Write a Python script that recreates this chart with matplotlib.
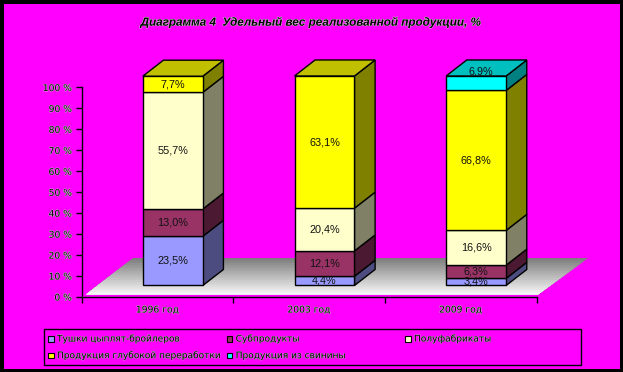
import matplotlib
matplotlib.use("Agg")
import matplotlib.pyplot as plt
from matplotlib.patches import Rectangle, Polygon
from matplotlib.transforms import Affine2D
import matplotlib.patheffects as pe
import numpy as np

categories = ["1996 год", "2003 год", "2009 год"]
series_names = ["Тушки цыплят-бройлеров", "Субпродукты", "Полуфабрикаты",
                "Продукция глубокой переработки", "Продукция из свинины"]
broilers = [23.5, 4.4, 3.4]
offal = [13.0, 12.1, 6.3]
semi = [55.7, 20.4, 16.6]
deep = [7.7, 63.1, 66.8]
pork = [0.0, 0.0, 6.9]
series_values = [broilers, offal, semi, deep, pork]
front_colors = ["#9999FF", "#993366", "#FFFFCC", "#FFFF00", "#00FFFF"]
side_colors = ["#4C4C80", "#4C1933", "#808066", "#808000", "#008080"]
top_colors = ["#7373BF", "#732650", "#BFBF99", "#C0C000", "#00BFBF"]
yticks = list(range(0, 101, 10))

W, H = 623, 372
fig = plt.figure(figsize=(W / 100, H / 100), dpi=100, facecolor="black")
plt.rcParams["font.family"] = ["Liberation Sans", "DejaVu Sans"]
px = Affine2D().scale(1 / W, -1 / H).translate(0, 1) + fig.transFigure

fig.patches.append(Rectangle((4, 4), 616, 365, transform=px, facecolor="#FF00FF",
                             edgecolor="none", zorder=-5))

x0, x1, y_bot, y_top = 81.5, 536.5, 297.0, 87.5
ax = fig.add_axes([x0 / W, 1 - y_bot / H, (x1 - x0) / W, (y_bot - y_top) / H])
ax.patch.set_visible(False)
ax.set_xlim(0, 3)
ax.set_ylim(0, 100)
for s in ("top", "right"):
    ax.spines[s].set_visible(False)
for s in ("left", "bottom"):
    ax.spines[s].set_linewidth(1.0)

halo = [pe.withStroke(linewidth=0.5, foreground="#dddddd")]
ax.set_yticks(yticks)
ax.set_yticklabels([f"{v} %" for v in yticks], fontsize=6.6, color="black", path_effects=halo,
                   fontfamily="DejaVu Sans")
ax.set_xticks([0, 1, 2, 3])
ax.set_xticklabels([])
ax.tick_params(axis="both", length=4, width=1, pad=3)
for i, c in enumerate(categories):
    ax.text(i + 0.5, -6.2, c, ha="center", va="center", fontsize=6.6, path_effects=halo,
            fontfamily="DejaVu Sans", clip_on=False)

# floor
fx_l0, fx_r0, fy0 = 0.03, 3.01, 1.2
bx_l, bx_r, by = 0.34, 3.34, 18.6
shades = np.linspace(0.50, 0.96, 15)
for k, sh in enumerate(shades):
    t = k / len(shades)
    xl = bx_l + (fx_l0 - bx_l) * t
    xr = bx_r + (fx_r0 - bx_r) * t
    yy = by + (fy0 - by) * t
    ax.add_patch(Polygon([(xl, yy), (xr, yy), (fx_r0, fy0), (fx_l0, fy0)], closed=True,
                         facecolor=str(sh), edgecolor="none", clip_on=False, zorder=1))

# bars
base = 5.5
bw = 60 / 151.67
off = 15.5 / 151.67
dx = 20.6 / 151.67
dy = 16 / 2.095
label_shift = {(2, 4): (5 / 151.67, 12 / 2.095)}
for i in range(len(categories)):
    left = i + 0.5 + off - bw / 2
    bottom = base
    top_idx = max(j for j in range(5) if series_values[j][i] > 0)
    for j, vals in enumerate(series_values):
        v = vals[i]
        if v <= 0:
            continue
        kw = dict(edgecolor="black", linewidth=1.0, clip_on=False, zorder=3 + i, joinstyle="miter")
        ax.add_patch(Polygon([(left + bw, bottom), (left + bw + dx, bottom + dy),
                              (left + bw + dx, bottom + v + dy), (left + bw, bottom + v)],
                             closed=True, facecolor=side_colors[j], **kw))
        ax.add_patch(Rectangle((left, bottom), bw, v, facecolor=front_colors[j], **kw))
        if j == top_idx:
            ax.add_patch(Polygon([(left, bottom + v), (left + bw, bottom + v),
                                  (left + bw + dx, bottom + v + dy), (left + dx, bottom + v + dy)],
                                 closed=True, facecolor=top_colors[j], **kw))
        sx, sy = label_shift.get((i, j), (0, 0))
        ax.text(left + bw / 2 + sx, bottom + v / 2 + sy, f"{v:.1f}%".replace(".", ","),
                ha="center", va="center", fontsize=7.8, color="#111111", zorder=10, clip_on=False)
        bottom += v

# title
fig.text(310.5 / W, 1 - 22 / H, "Диаграмма 4  Удельный вес реализованной продукции, %",
         ha="center", va="center", fontsize=8.4, fontweight="bold", fontstyle="italic",
         color="black", path_effects=[pe.withStroke(linewidth=0.6, foreground="#dddddd")])

# legend
fig.patches.append(Rectangle((43.5, 328.5), 537, 36.5, transform=px, facecolor="none",
                             edgecolor="black", linewidth=1.0))
legend_pos = [(48, 336), (226.7, 336), (405, 336), (48, 352.7), (226.7, 352.7)]
for (mx, my), name, col in zip(legend_pos, series_names, front_colors):
    fig.patches.append(Rectangle((mx, my), 5.5, 5.5, transform=px, facecolor=col,
                                 edgecolor="black", linewidth=0.8))
    fig.text((mx + 9) / W, 1 - (my + 3) / H, name, ha="left", va="center", fontsize=6.5,
             fontfamily="DejaVu Sans", color="black",
             path_effects=[pe.withStroke(linewidth=0.4, foreground="#dddddd")])

fig.savefig("out.png", dpi=100, facecolor=fig.get_facecolor())
